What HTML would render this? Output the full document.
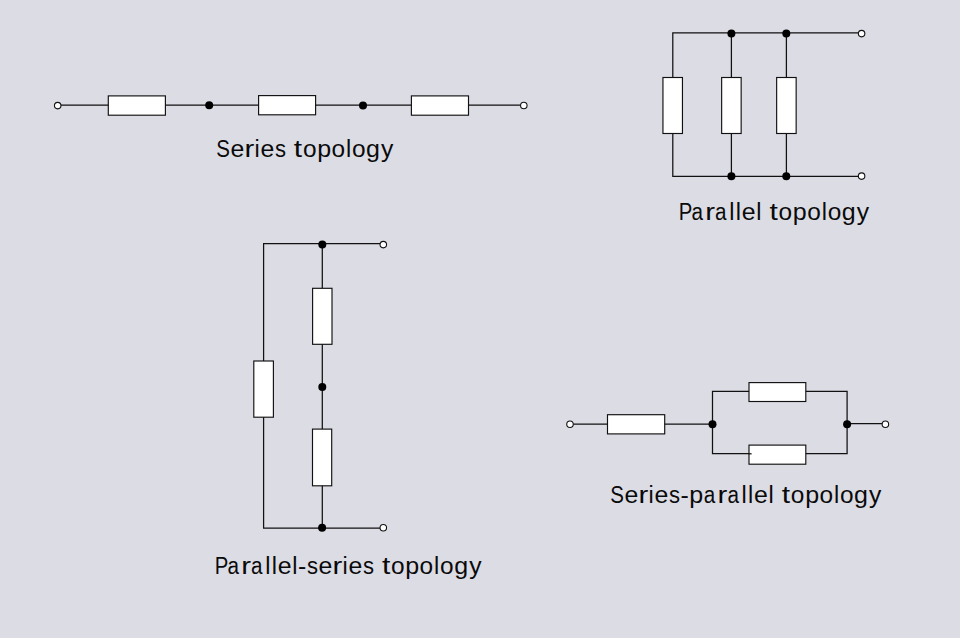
<!DOCTYPE html>
<html><head><meta charset="utf-8">
<style>
html,body{margin:0;padding:0;background:#dcdce4;}
body{width:960px;height:638px;overflow:hidden;position:relative;}
svg{position:absolute;left:0;top:0;}
.w{stroke:#111;stroke-width:1.25;fill:none;}
.r{stroke:#111;stroke-width:1.15;fill:#fff;}
.d{fill:#000;}
.o{stroke:#111;stroke-width:1.1;fill:#fff;}
text{font-family:"Liberation Sans",sans-serif;font-size:24.03px;fill:#0a0a0a;}
</style></head>
<body>
<svg width="960" height="638" viewBox="0 0 960 638">
<!-- Series topology -->
<path class="w" d="M57.7 105H523.8"/>
<rect class="r" x="108.3" y="95.9" width="57.1" height="19.3"/>
<rect class="r" x="258.6" y="95.6" width="57.0" height="19.2"/>
<rect class="r" x="411.4" y="95.9" width="57.1" height="19.3"/>
<circle class="d" cx="209.2" cy="105.2" r="4"/>
<circle class="d" cx="363" cy="105.4" r="4"/>
<circle class="o" cx="57.7" cy="105.6" r="3.25"/>
<circle class="o" cx="523.8" cy="105.5" r="3.25"/>
<text y="157.10"><tspan x="216.19" textLength="13.68" lengthAdjust="spacingAndGlyphs">S</tspan><tspan x="230.41" textLength="13.82" lengthAdjust="spacingAndGlyphs">e</tspan><tspan x="244.48" textLength="9.81" lengthAdjust="spacingAndGlyphs">r</tspan><tspan x="254.40" textLength="5.22" lengthAdjust="spacingAndGlyphs">i</tspan><tspan x="260.41" textLength="13.82" lengthAdjust="spacingAndGlyphs">e</tspan><tspan x="274.98" textLength="11.02" lengthAdjust="spacingAndGlyphs">s</tspan><tspan x="286.33"> </tspan><tspan x="293.89" textLength="8.35" lengthAdjust="spacingAndGlyphs">t</tspan><tspan x="302.90" textLength="13.60" lengthAdjust="spacingAndGlyphs">o</tspan><tspan x="317.21" textLength="13.92" lengthAdjust="spacingAndGlyphs">p</tspan><tspan x="331.57" textLength="13.60" lengthAdjust="spacingAndGlyphs">o</tspan><tspan x="345.98" textLength="5.22" lengthAdjust="spacingAndGlyphs">l</tspan><tspan x="352.03" textLength="13.60" lengthAdjust="spacingAndGlyphs">o</tspan><tspan x="366.08" textLength="13.90" lengthAdjust="spacingAndGlyphs">g</tspan><tspan x="381.09" textLength="12.35" lengthAdjust="spacingAndGlyphs">y</tspan></text>

<!-- Parallel topology -->
<path class="w" d="M861.6 32.9H672.8V176.3H861.6M731.4 32.9V176.3M786.4 32.9V176.3"/>
<rect class="r" x="662.95" y="77.5" width="19.5" height="56"/>
<rect class="r" x="721.65" y="77.5" width="19.5" height="56"/>
<rect class="r" x="776.65" y="77.5" width="19.5" height="56"/>
<circle class="d" cx="731.4" cy="33.6" r="4"/>
<circle class="d" cx="786.3" cy="33.6" r="4"/>
<circle class="d" cx="731.4" cy="176.3" r="4"/>
<circle class="d" cx="786.3" cy="176.3" r="4"/>
<circle class="o" cx="861.6" cy="33.6" r="3.25"/>
<circle class="o" cx="861.6" cy="176.1" r="3.25"/>
<text y="220.40"><tspan x="678.79" textLength="13.57" lengthAdjust="spacingAndGlyphs">P</tspan><tspan x="691.53" textLength="11.50" lengthAdjust="spacingAndGlyphs">a</tspan><tspan x="705.25" textLength="9.81" lengthAdjust="spacingAndGlyphs">r</tspan><tspan x="715.08" textLength="11.50" lengthAdjust="spacingAndGlyphs">a</tspan><tspan x="729.25" textLength="5.22" lengthAdjust="spacingAndGlyphs">l</tspan><tspan x="735.64" textLength="5.22" lengthAdjust="spacingAndGlyphs">l</tspan><tspan x="741.66" textLength="13.82" lengthAdjust="spacingAndGlyphs">e</tspan><tspan x="756.18" textLength="5.22" lengthAdjust="spacingAndGlyphs">l</tspan><tspan x="761.99"> </tspan><tspan x="769.55" textLength="8.35" lengthAdjust="spacingAndGlyphs">t</tspan><tspan x="778.56" textLength="13.60" lengthAdjust="spacingAndGlyphs">o</tspan><tspan x="792.87" textLength="13.92" lengthAdjust="spacingAndGlyphs">p</tspan><tspan x="807.23" textLength="13.60" lengthAdjust="spacingAndGlyphs">o</tspan><tspan x="821.65" textLength="5.22" lengthAdjust="spacingAndGlyphs">l</tspan><tspan x="827.69" textLength="13.60" lengthAdjust="spacingAndGlyphs">o</tspan><tspan x="841.74" textLength="13.90" lengthAdjust="spacingAndGlyphs">g</tspan><tspan x="856.75" textLength="12.35" lengthAdjust="spacingAndGlyphs">y</tspan></text>

<!-- Parallel-series topology -->
<path class="w" d="M383 243.6H263.6V528.2H383M322.3 243.6V528.2"/>
<rect class="r" x="253.8" y="361" width="19.6" height="56.2"/>
<rect class="r" x="312.6" y="288.3" width="19.4" height="56"/>
<rect class="r" x="312.5" y="429.1" width="19.2" height="56.7"/>
<circle class="d" cx="322.3" cy="244.5" r="4"/>
<circle class="d" cx="322.3" cy="387.0" r="4"/>
<circle class="d" cx="322.1" cy="527.8" r="4"/>
<circle class="o" cx="383.3" cy="244.6" r="3.25"/>
<circle class="o" cx="383.3" cy="527.8" r="3.25"/>
<text y="573.90"><tspan x="214.79" textLength="13.57" lengthAdjust="spacingAndGlyphs">P</tspan><tspan x="227.53" textLength="11.50" lengthAdjust="spacingAndGlyphs">a</tspan><tspan x="241.25" textLength="9.81" lengthAdjust="spacingAndGlyphs">r</tspan><tspan x="251.08" textLength="11.50" lengthAdjust="spacingAndGlyphs">a</tspan><tspan x="265.25" textLength="5.22" lengthAdjust="spacingAndGlyphs">l</tspan><tspan x="271.64" textLength="5.22" lengthAdjust="spacingAndGlyphs">l</tspan><tspan x="277.66" textLength="13.82" lengthAdjust="spacingAndGlyphs">e</tspan><tspan x="292.18" textLength="5.22" lengthAdjust="spacingAndGlyphs">l</tspan><tspan x="298.01" textLength="8.26" lengthAdjust="spacingAndGlyphs">-</tspan><tspan x="306.92" textLength="11.02" lengthAdjust="spacingAndGlyphs">s</tspan><tspan x="318.49" textLength="13.82" lengthAdjust="spacingAndGlyphs">e</tspan><tspan x="332.55" textLength="9.81" lengthAdjust="spacingAndGlyphs">r</tspan><tspan x="342.47" textLength="5.22" lengthAdjust="spacingAndGlyphs">i</tspan><tspan x="348.48" textLength="13.82" lengthAdjust="spacingAndGlyphs">e</tspan><tspan x="363.05" textLength="11.02" lengthAdjust="spacingAndGlyphs">s</tspan><tspan x="374.40"> </tspan><tspan x="381.96" textLength="8.35" lengthAdjust="spacingAndGlyphs">t</tspan><tspan x="390.97" textLength="13.60" lengthAdjust="spacingAndGlyphs">o</tspan><tspan x="405.28" textLength="13.92" lengthAdjust="spacingAndGlyphs">p</tspan><tspan x="419.64" textLength="13.60" lengthAdjust="spacingAndGlyphs">o</tspan><tspan x="434.06" textLength="5.22" lengthAdjust="spacingAndGlyphs">l</tspan><tspan x="440.11" textLength="13.60" lengthAdjust="spacingAndGlyphs">o</tspan><tspan x="454.16" textLength="13.90" lengthAdjust="spacingAndGlyphs">g</tspan><tspan x="469.16" textLength="12.35" lengthAdjust="spacingAndGlyphs">y</tspan></text>

<!-- Series-parallel topology -->
<path class="w" d="M570 424H712.5M712.5 391.3H847.1V453.7H712.5ZM847.1 423.5H885.4"/>
<rect class="r" x="607.5" y="414.7" width="57.2" height="19.2"/>
<rect class="r" x="749" y="382.6" width="56.8" height="18.9"/>
<rect class="r" x="749" y="445.1" width="56.8" height="19.1"/>
<path class="w" d="M748.5 453.8H751.6"/>
<circle class="d" cx="712.5" cy="424.2" r="4"/>
<circle class="d" cx="847.1" cy="424.2" r="4"/>
<circle class="o" cx="570" cy="424.2" r="3.25"/>
<circle class="o" cx="885.4" cy="424.2" r="3.25"/>
<text y="502.90"><tspan x="610.29" textLength="13.68" lengthAdjust="spacingAndGlyphs">S</tspan><tspan x="624.51" textLength="13.82" lengthAdjust="spacingAndGlyphs">e</tspan><tspan x="638.58" textLength="9.81" lengthAdjust="spacingAndGlyphs">r</tspan><tspan x="648.50" textLength="5.22" lengthAdjust="spacingAndGlyphs">i</tspan><tspan x="654.51" textLength="13.82" lengthAdjust="spacingAndGlyphs">e</tspan><tspan x="669.08" textLength="11.02" lengthAdjust="spacingAndGlyphs">s</tspan><tspan x="680.45" textLength="8.26" lengthAdjust="spacingAndGlyphs">-</tspan><tspan x="689.20" textLength="13.92" lengthAdjust="spacingAndGlyphs">p</tspan><tspan x="703.83" textLength="11.50" lengthAdjust="spacingAndGlyphs">a</tspan><tspan x="717.55" textLength="9.81" lengthAdjust="spacingAndGlyphs">r</tspan><tspan x="727.38" textLength="11.50" lengthAdjust="spacingAndGlyphs">a</tspan><tspan x="741.56" textLength="5.22" lengthAdjust="spacingAndGlyphs">l</tspan><tspan x="747.95" textLength="5.22" lengthAdjust="spacingAndGlyphs">l</tspan><tspan x="753.97" textLength="13.82" lengthAdjust="spacingAndGlyphs">e</tspan><tspan x="768.49" textLength="5.22" lengthAdjust="spacingAndGlyphs">l</tspan><tspan x="774.29"> </tspan><tspan x="781.86" textLength="8.35" lengthAdjust="spacingAndGlyphs">t</tspan><tspan x="790.87" textLength="13.60" lengthAdjust="spacingAndGlyphs">o</tspan><tspan x="805.17" textLength="13.92" lengthAdjust="spacingAndGlyphs">p</tspan><tspan x="819.54" textLength="13.60" lengthAdjust="spacingAndGlyphs">o</tspan><tspan x="833.95" textLength="5.22" lengthAdjust="spacingAndGlyphs">l</tspan><tspan x="840.00" textLength="13.60" lengthAdjust="spacingAndGlyphs">o</tspan><tspan x="854.05" textLength="13.90" lengthAdjust="spacingAndGlyphs">g</tspan><tspan x="869.05" textLength="12.35" lengthAdjust="spacingAndGlyphs">y</tspan></text>
</svg>
</body></html>
